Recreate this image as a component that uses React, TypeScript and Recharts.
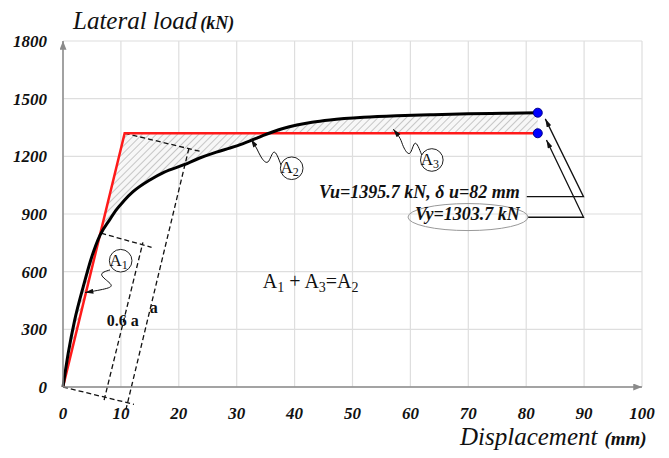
import {
  ComposedChart,
  Line,
  Area,
  XAxis,
  YAxis,
  CartesianGrid,
  ReferenceDot,
  ReferenceLine,
} from 'recharts';

// capacity curve (black)
const displacement = [
  0, 0.9, 2, 3.5, 5, 6.4, 8.1, 9.3, 10.5, 10.65, 12.1, 15, 17.5, 20.8, 23.5, 26.5, 28.8, 31, 32.3,
  33.5, 34.6, 36.3, 38, 40.4, 43, 46.1, 51.9, 57.6, 63.4, 70, 76, 82,
];
const lateralLoad = [
  0, 175, 345, 522, 680, 790, 872, 925, 968, 973, 1016, 1077, 1118, 1155, 1190, 1222, 1243, 1265,
  1280, 1295, 1309, 1328, 1345, 1363, 1377, 1389, 1403, 1411, 1416, 1421, 1424, 1427,
];
// bilinear idealisation (red) at the same displacements
const bilinearLoad = [
  0, 112, 248, 434, 620, 793, 1004, 1153, 1302, 1320, 1320, 1320, 1320, 1320, 1320, 1320, 1320,
  1320, 1320, 1320, 1320, 1320, 1320, 1320, 1320, 1320, 1320, 1320, 1320, 1320, 1320, 1320,
];

const idealX = [0, 10.65, 82];
const idealY = [0, 1320, 1320];

const xTicks = [0, 10, 20, 30, 40, 50, 60, 70, 80, 90, 100];
const yTicks = [0, 300, 600, 900, 1200, 1500, 1800];

// leaders (data coords)
const leaderA1 = [
  { x: 8.12, y: 609 },
  { x: 6.68, y: 583 },
  { x: 8.12, y: 539 },
  { x: 7.55, y: 513 },
  { x: 3.8, y: 491 },
];
const leaderA2 = [
  { x: 37.65, y: 1155 },
  { x: 36.44, y: 1222 },
  { x: 35.4, y: 1171 },
  { x: 34.2, y: 1197 },
  { x: 33.5, y: 1238 },
  { x: 32.47, y: 1290 },
];
const leaderA3 = [
  { x: 61.95, y: 1207 },
  { x: 60.8, y: 1268 },
  { x: 59.9, y: 1216 },
  { x: 58.8, y: 1250 },
  { x: 58.2, y: 1294 },
  { x: 57.05, y: 1341 },
];
const leaderVu = [
  { x: 80.1, y: 990 },
  { x: 89.9, y: 990 },
  { x: 83.3, y: 1395 },
];
const leaderVy = [
  { x: 80.3, y: 883 },
  { x: 89.9, y: 883 },
  { x: 83.5, y: 1285 },
];

const curveRows = displacement.map((x, i) => ({
  x,
  load: lateralLoad[i],
  band: [bilinearLoad[i], lateralLoad[i]],
}));
const idealRows = idealX.map((x, i) => ({ x, ideal: idealY[i] }));

const serif = 'Liberation Serif, Times New Roman, serif';
const tickStyle = { fontFamily: serif, fontSize: 17, fontWeight: 'bold', fontStyle: 'italic', fill: '#111' };

const dash = { stroke: '#111', strokeWidth: 1.3, strokeDasharray: '5 3', ifOverflow: 'visible' as const };

function Tag({ cx, cy, n }: any) {
  return (
    <g>
      <circle cx={cx} cy={cy} r={11.3} fill="#fff" stroke="#222" strokeWidth={1} />
      <text x={cx - 2} y={cy + 5} textAnchor="middle" fontFamily={serif} fontSize={17} fill="#111">
        A
        <tspan fontSize={12} dy={3}>
          {n}
        </tspan>
      </text>
    </g>
  );
}

export default function App() {
  return (
    <div style={{ position: 'absolute', left: 0, top: 0, width: 669, height: 458, background: '#fff' }}>
      <ComposedChart
        width={669}
        height={458}
        data={curveRows}
        margin={{ top: 41, right: 27, bottom: 41, left: 13 }}
      >
        <defs>
          <pattern id="hatch" patternUnits="userSpaceOnUse" width="5" height="5" patternTransform="rotate(45)">
            <rect width="5" height="5" fill="#f7f7f7" />
            <line x1="0" y1="0" x2="0" y2="5" stroke="#c6c6c6" strokeWidth="2" />
          </pattern>
          <marker id="axisArrow" viewBox="0 0 10 8" refX="10" refY="4" markerWidth="10" markerHeight="7"
            markerUnits="userSpaceOnUse" orient="auto-start-reverse">
            <path d="M0,0 L10,4 L0,8 z" fill="#8a8a8a" />
          </marker>
          <marker id="leadArrow" viewBox="0 0 10 6" refX="10" refY="3" markerWidth="9" markerHeight="5"
            markerUnits="userSpaceOnUse" orient="auto">
            <path d="M0,0 L10,3 L0,6 z" fill="#111" />
          </marker>
        </defs>
        <CartesianGrid stroke="#dedede" strokeWidth={1.2} />
        <XAxis
          type="number"
          dataKey="x"
          domain={[0, 100]}
          ticks={xTicks}
          height={30}
          tickLine={false}
          tickSize={0}
          tickMargin={20}
          tick={tickStyle}
          axisLine={{ stroke: '#8a8a8a', strokeWidth: 1.5, markerEnd: 'url(#axisArrow)' } as any}
        />
        <YAxis
          type="number"
          domain={[0, 1800]}
          ticks={yTicks}
          width={50}
          tickLine={false}
          tickSize={0}
          tickMargin={16}
          tick={tickStyle}
          axisLine={{ stroke: '#8a8a8a', strokeWidth: 1.5, markerStart: 'url(#axisArrow)' } as any}
        />

        <Area dataKey="band" type="monotone" fill="url(#hatch)" fillOpacity={1} stroke="none" isAnimationActive={false} />

        <ReferenceLine segment={[{ x: 0, y: 0 }, { x: 12.26, y: -90 }]} {...dash} />
        <ReferenceLine segment={[{ x: 7.1, y: -68 }, { x: 13.8, y: 752 }]} {...dash} />
        <ReferenceLine segment={[{ x: 6.6, y: 800 }, { x: 15.3, y: 727 }]} {...dash} />
        <ReferenceLine segment={[{ x: 10.85, y: -120 }, { x: 21.85, y: 1255 }]} {...dash} />
        <ReferenceLine segment={[{ x: 10.65, y: 1320 }, { x: 23.66, y: 1226 }]} {...dash} />

        <Line data={idealRows} dataKey="ideal" type="linear" stroke="#ff1a1a" strokeWidth={2.5} dot={false} isAnimationActive={false} />
        <Line dataKey="load" type="monotone" stroke="#000" strokeWidth={3} dot={false} isAnimationActive={false} />

        <Line data={leaderA1} dataKey="y" type="natural" stroke="#111" strokeWidth={1} dot={false} markerEnd="url(#leadArrow)" isAnimationActive={false} />
        <Line data={leaderA2} dataKey="y" type="natural" stroke="#111" strokeWidth={1} dot={false} markerEnd="url(#leadArrow)" isAnimationActive={false} />
        <Line data={leaderA3} dataKey="y" type="natural" stroke="#111" strokeWidth={1} dot={false} markerEnd="url(#leadArrow)" isAnimationActive={false} />
        <Line data={leaderVu} dataKey="y" type="linear" stroke="#111" strokeWidth={1.3} dot={false} markerEnd="url(#leadArrow)" isAnimationActive={false} />
        <Line data={leaderVy} dataKey="y" type="linear" stroke="#111" strokeWidth={1.3} dot={false} markerEnd="url(#leadArrow)" isAnimationActive={false} />

        <ReferenceDot x={9.96} y={657} shape={(p: any) => <Tag {...p} n="1" />} />
        <ReferenceDot x={39.5} y={1138} shape={(p: any) => <Tag {...p} n="2" />} />
        <ReferenceDot x={63.7} y={1181} shape={(p: any) => <Tag {...p} n="3" />} />

        <ReferenceDot x={82} y={1427} r={4.5} fill="#0000ff" stroke="#00008b" strokeWidth={1} />
        <ReferenceDot x={82} y={1320} r={4.5} fill="#0000ff" stroke="#00008b" strokeWidth={1} />

        <ReferenceDot
          x={69.95}
          y={884}
          shape={(p: any) => <ellipse cx={p.cx} cy={p.cy} rx={60} ry={13.5} fill="none" stroke="#999" strokeWidth={1} />}
        />
        <ReferenceDot
          x={78.9}
          y={981}
          shape={(p: any) => (
            <text x={p.cx} y={p.cy} textAnchor="end" fontFamily={serif} fontSize={18} fontWeight="bold" fontStyle="italic" fill="#111">
              Vu=1395.7 kN, δ u=82 mm
            </text>
          )}
        />
        <ReferenceDot
          x={78.9}
          y={869}
          shape={(p: any) => (
            <text x={p.cx} y={p.cy} textAnchor="end" fontFamily={serif} fontSize={18} fontWeight="bold" fontStyle="italic" fill="#111">
              Vy=1303.7 kN
            </text>
          )}
        />
        <ReferenceDot
          x={7.55}
          y={317}
          shape={(p: any) => (
            <text x={p.cx} y={p.cy} fontFamily={serif} fontSize={16} fontWeight="bold" fill="#111">
              0.6 a
            </text>
          )}
        />
        <ReferenceDot
          x={15.0}
          y={385}
          shape={(p: any) => (
            <text x={p.cx} y={p.cy} fontFamily={serif} fontSize={16} fontWeight="bold" fill="#111">
              a
            </text>
          )}
        />
        <ReferenceDot
          x={34.5}
          y={515}
          shape={(p: any) => (
            <text x={p.cx} y={p.cy} fontFamily={serif} fontSize={20} fill="#111">
              A<tspan fontSize={14} dy={4}>1</tspan>
              <tspan dy={-4}> + A</tspan>
              <tspan fontSize={14} dy={4}>3</tspan>
              <tspan dy={-4}>=A</tspan>
              <tspan fontSize={14} dy={4}>2</tspan>
            </text>
          )}
        />
      </ComposedChart>
      <svg width={669} height={458} style={{ position: 'absolute', left: 0, top: 0, pointerEvents: 'none' }}>
        <text x={73} y={29} fontFamily={serif} fontSize={25} fontStyle="italic" fill="#111">
          Lateral load
          <tspan dx={3} fontSize={18} fontWeight="bold">(kN)</tspan>
        </text>
        <text x={460} y={445} fontFamily={serif} fontSize={25} fontStyle="italic" fill="#111">
          Displacement
          <tspan dx={7} fontSize={19} fontWeight="bold">(mm)</tspan>
        </text>
      </svg>
    </div>
  );
}
